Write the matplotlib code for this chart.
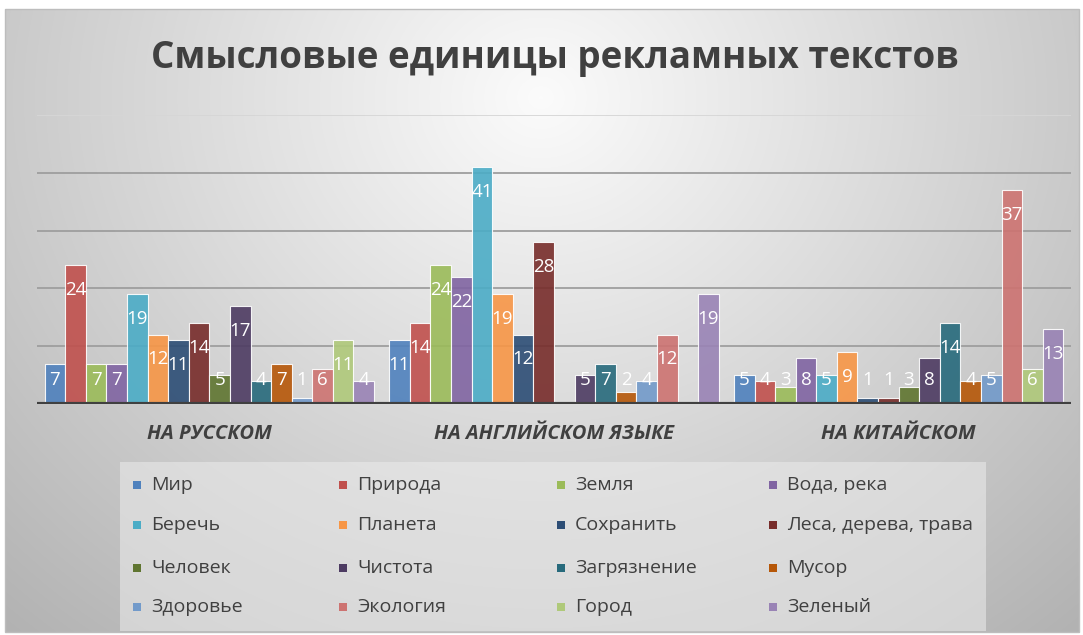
import numpy as np
import matplotlib
matplotlib.use("Agg")
import matplotlib.pyplot as plt
from matplotlib.patches import Rectangle

plt.rcParams['font.family'] = ['Open Sans', 'DejaVu Sans']

title = "Смысловые единицы рекламных текстов"
categories = ["НА РУССКОМ", "НА АНГЛИЙСКОМ ЯЗЫКЕ", "НА КИТАЙСКОМ"]
series_names = ["Мир", "Природа", "Земля", "Вода, река",
                "Беречь", "Планета", "Сохранить", "Леса, дерева, трава",
                "Человек", "Чистота", "Загрязнение", "Мусор",
                "Здоровье", "Экология", "Город", "Зеленый"]
colors = ["#4F81BD", "#C0504D", "#9BBB59", "#8064A2",
          "#4BACC6", "#F79646", "#2C4D75", "#772C2A",
          "#5F7530", "#4D3B62", "#276A7C", "#B65708",
          "#729ACA", "#CD7371", "#AFC97A", "#9983B5"]
# values per series: [Russian, English, Chinese]; None = no bar
values = {
    "Мир": [7, 11, 5],
    "Природа": [24, 14, 4],
    "Земля": [7, 24, 3],
    "Вода, река": [7, 22, 8],
    "Беречь": [19, 41, 5],
    "Планета": [12, 19, 9],
    "Сохранить": [11, 12, 1],
    "Леса, дерева, трава": [14, 28, 1],
    "Человек": [5, None, 3],
    "Чистота": [17, 5, 8],
    "Загрязнение": [4, 7, 14],
    "Мусор": [7, 2, 4],
    "Здоровье": [1, 4, 5],
    "Экология": [6, 12, 37],
    "Город": [11, None, 6],
    "Зеленый": [4, 19, 13],
}
y_max = 50
grid_ticks = [10, 20, 30, 40, 50]

W, H = 1083, 635
fig = plt.figure(figsize=(W / 100, H / 100), dpi=100)

# background gradient
bg = fig.add_axes([0, 0, 1, 1])
bg.set_xlim(0, W)
bg.set_ylim(H, 0)
bg.axis('off')
xx, yy = np.meshgrid(np.arange(W), np.arange(H))
r = np.sqrt(((xx - 540) / 620.0) ** 2 + ((yy - 90) / 560.0) ** 2)
val = np.clip(0.985 - 0.22 * r, 0, 1)
img = np.dstack([val, val, val])
bg.imshow(img, extent=[5, 1079, 632, 9], aspect='auto', zorder=0)
bg.add_patch(Rectangle((5, 9), 1074, 623, fill=False, edgecolor="#bdbdbd", lw=1, zorder=1))

# legend box
bg.add_patch(Rectangle((120, 462), 866, 169, facecolor="#ececec", alpha=0.55,
                       edgecolor="none", zorder=1))

ax = fig.add_axes([37 / W, 1 - 404 / H, (1071 - 37) / W, (404 - 115) / H])
ax.patch.set_alpha(0)
n = len(series_names)
group_w = 0.956
w = group_w / n
x = np.arange(len(categories))

for t in grid_ticks:
    ax.axhline(t, color="#9e9e9e" if t < 50 else "#d6d6d6", lw=1.3, zorder=1)

for i, name in enumerate(series_names):
    vals = values[name]
    xs = x - group_w / 2 + w * (i + 0.5)
    for xi, v in zip(xs, vals):
        if v is None:
            continue
        ax.bar(xi, v, width=w, color=colors[i], alpha=0.9, edgecolor=(1, 1, 1, 0.6),
               linewidth=0.8, zorder=2)
        ly = max(v - 4.3, 4.1)
        ax.text(xi, ly, str(v), ha='center', va='center', color='white',
                fontsize=13.5, zorder=3)

ax.axhline(0, color="#404040", lw=3, zorder=4)
ax.set_xlim(-0.5, 2.5)
ax.set_ylim(0, y_max)
ax.set_xticks([])
ax.set_yticks([])
for s in ax.spines.values():
    s.set_visible(False)

for xi, c in zip(x, categories):
    ax.annotate(c, (xi, 0), xytext=(0, -30), textcoords='offset pixels',
                ha='center', va='center', fontsize=14.5, fontweight='bold',
                fontstyle='italic', color="#404040")

fig.text(555 / W, 1 - 58 / H, title, ha='center', va='center', fontsize=26.5,
         fontweight='bold', color="#404040")

# legend
col_x = [137, 343, 561, 773]
row_y = [485, 525, 568, 607]
for i, name in enumerate(series_names):
    row, col = divmod(i, 4)
    bg.add_patch(Rectangle((col_x[col] - 4, row_y[row] - 4), 8, 8,
                           facecolor=colors[i], edgecolor='none', zorder=3))
    bg.text(col_x[col] + 14, row_y[row], name, ha='left', va='center',
            fontsize=14, color="#404040", zorder=3)

fig.savefig("out.png", dpi=100)
